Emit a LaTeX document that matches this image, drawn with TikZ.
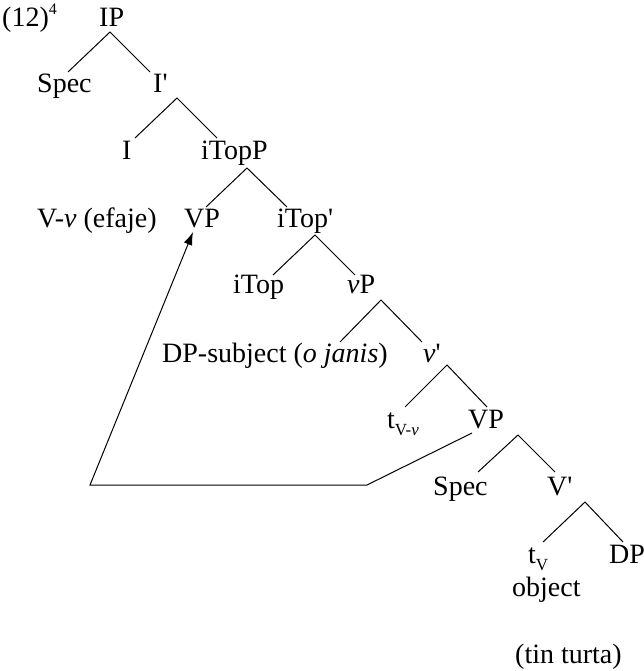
\documentclass[tikz,border=0pt]{standalone}
\usepackage{fontspec}
\setmainfont{Liberation Serif}[Ligatures=TeXOff]
\usetikzlibrary{calc,arrows.meta}
\tikzset{
  lbl/.style={anchor=base west, inner sep=0pt, font=\fontsize{28}{33}\selectfont},
  br/.style={line width=1pt},
  mv/.style={line width=1pt, -{Latex[length=13pt,width=9pt]}}
}
\newcommand{\sbs}[1]{\raisebox{-0.25em}{\fontsize{17}{17}\selectfont #1}}
\begin{document}
\begin{tikzpicture}[x=1pt,y=-1pt]
\useasboundingbox (0,0) rectangle (644,671);
\node[lbl] (ex) at (2,27) {(12)\raisebox{0.45em}{\fontsize{16}{16}\selectfont 4}};
\node[lbl] (IP) at (99,27) {IP};
\node[lbl] (Spec1) at (37,93) {Spec};
\node[lbl] (I1) at (153,93) {I'};
\node[lbl] (I) at (122,160) {I};
\node[lbl] (iTopP) at (201,160) {iTopP};
\node[lbl] (Vv) at (37,227) {V-\textit{v} (efaje)};
\node[lbl] (VP1) at (184,227) {VP};
\node[lbl] (iTop1) at (277,227) {iTop'};
\node[lbl] (iTop) at (233,293) {iTop};
\node[lbl] (vP) at (347,293) {\textit{v}P};
\node[lbl] (DPs) at (162,362) {DP-subject (\textit{o janis})};
\node[lbl] (v1) at (423,362) {\textit{v}'};
\node[lbl] (tVv) at (387,428) {t\sbs{V-\textit{v}}};
\node[lbl] (VP2) at (468,428) {VP};
\node[lbl] (Spec2) at (433,495) {Spec};
\node[lbl] (V1) at (547,495) {V'};
\node[lbl] (tV) at (528,563) {t\sbs{V}};
\node[lbl] (DP) at (609,563) {DP};
\node[lbl] (obj) at (512,596) {object};
\node[lbl] (tt) at (515,663) {(tin turta)};
% branches
\draw[br] ($(Spec1.base west)+(31,-21)$) -- ($(IP.base west)+(11,5)$) -- ($(I1.base west)+(-3,-21)$);
\draw[br] ($(I.base west)+(13,-22)$) -- ($(I1.base west)+(24,5)$) -- ($(iTopP.base west)+(16,-22)$);
\draw[br] ($(VP1.base west)+(22,-20)$) -- ($(iTopP.base west)+(46,8)$) -- ($(iTop1.base west)+(10,-20)$);
\draw[br] ($(iTop.base west)+(40,-18)$) -- ($(iTop1.base west)+(38,8)$) -- ($(vP.base west)+(8,-18)$);
\draw[br] ($(DPs.base west)+(178,-20)$) -- ($(vP.base west)+(34,7)$) -- ($(v1.base west)+(-1,-20)$);
\draw[br] ($(tVv.base west)+(18,-21)$) -- ($(v1.base west)+(24,3)$) -- ($(VP2.base west)+(19,-21)$);
\draw[br] ($(Spec2.base west)+(45,-23)$) -- ($(VP2.base west)+(50,7)$) -- ($(V1.base west)+(8,-23)$);
\draw[br] ($(tV.base west)+(15,-21)$) -- ($(V1.base west)+(38,7)$) -- ($(DP.base west)+(14,-21)$);
% movement
\coordinate (m1) at (367,485);
\coordinate (m2) at (90,485);
\draw[mv] ($(VP2.base west)+(4,5)$) -- (m1) -- (m2) -- ($(VP1.base west)+(9,5)$);
\end{tikzpicture}
\end{document}
